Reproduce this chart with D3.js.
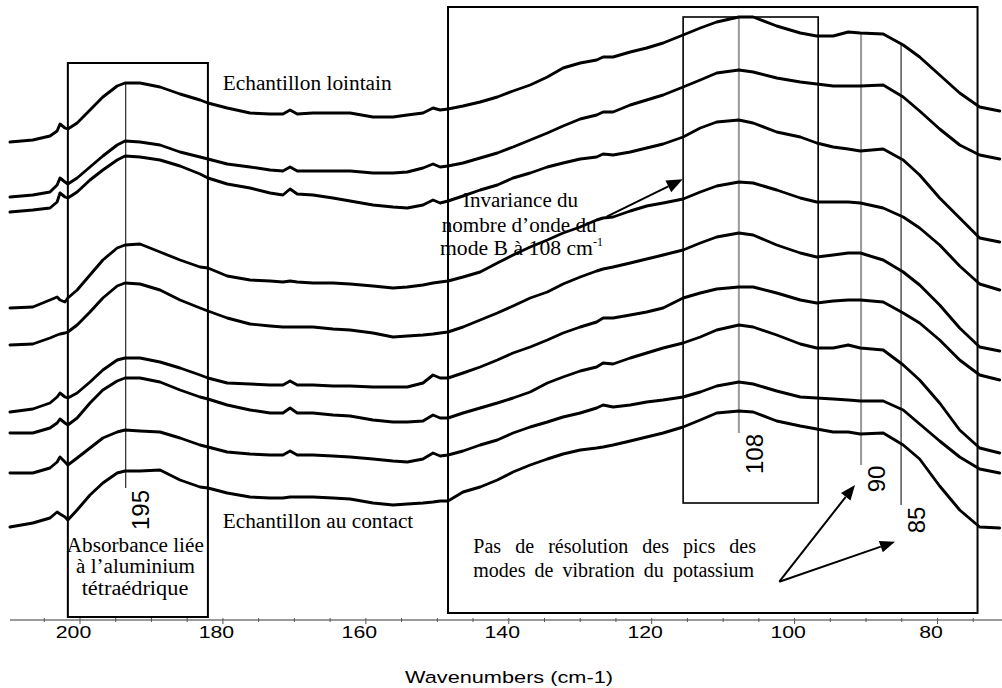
<!DOCTYPE html>
<html><head><meta charset="utf-8">
<script src="https://cdn.jsdelivr.net/npm/d3@7"></script>
<style>body{margin:0;background:#fff;} svg{display:block;}</style>
</head><body><svg id="c" width="1002" height="688"></svg>
<script>
// ---- data (wavenumber in cm-1, absorbance in arbitrary offset units) ----
const wavenumbers = [209.8,206.6,204.2,203.2,202.8,202.1,201.7,200.4,198.6,196.8,194.8,193.7,191.6,188.8,186.0,183.2,182.1,179.4,176.2,173.4,171.6,170.6,169.6,167.4,164.6,162.2,159.0,156.2,154.2,152.0,150.6,149.6,148.5,146.4,144.0,141.6,139.4,137.0,134.6,132.4,130.0,127.7,126.8,125.4,123.0,120.7,118.4,115.6,113.2,110.9,107.8,105.8,102.5,99.2,96.9,94.6,92.5,90.8,87.6,84.8,82.5,79.7,76.9,74.1,71.3];
const spectrum1 = [4.78,4.80,4.84,4.89,4.96,4.92,4.91,4.97,5.10,5.23,5.34,5.37,5.37,5.33,5.26,5.20,5.17,5.12,5.07,5.06,5.06,5.10,5.06,5.07,5.07,5.07,5.03,5.03,5.05,5.07,5.12,5.10,5.11,5.14,5.18,5.23,5.29,5.35,5.43,5.52,5.57,5.60,5.63,5.63,5.68,5.72,5.77,5.85,5.92,5.98,6.03,6.03,5.94,5.87,5.84,5.84,5.88,5.87,5.86,5.75,5.63,5.45,5.27,5.13,5.09];
const spectrum2 = [4.23,4.25,4.28,4.35,4.42,4.38,4.36,4.42,4.53,4.64,4.75,4.79,4.78,4.75,4.68,4.63,4.61,4.56,4.53,4.50,4.49,4.53,4.49,4.49,4.49,4.49,4.47,4.47,4.48,4.52,4.56,4.53,4.54,4.57,4.62,4.67,4.73,4.80,4.87,4.94,5.01,5.05,5.08,5.08,5.15,5.20,5.25,5.33,5.40,5.47,5.50,5.48,5.42,5.38,5.36,5.34,5.34,5.34,5.35,5.23,5.09,4.91,4.75,4.65,4.61];
const spectrum3 = [4.08,4.10,4.12,4.18,4.27,4.23,4.22,4.28,4.40,4.50,4.60,4.64,4.63,4.60,4.54,4.46,4.42,4.36,4.32,4.27,4.25,4.31,4.26,4.25,4.22,4.19,4.15,4.13,4.12,4.15,4.20,4.17,4.19,4.24,4.30,4.35,4.42,4.47,4.53,4.57,4.61,4.63,4.66,4.65,4.68,4.72,4.76,4.83,4.92,4.98,5.00,4.97,4.88,4.83,4.77,4.73,4.71,4.69,4.71,4.60,4.45,4.22,4.02,3.82,3.78];
const spectrum4 = [3.12,3.13,3.20,3.23,3.20,3.18,3.22,3.30,3.45,3.60,3.72,3.75,3.76,3.68,3.60,3.53,3.52,3.44,3.40,3.39,3.38,3.39,3.38,3.37,3.37,3.36,3.34,3.32,3.33,3.35,3.37,3.38,3.39,3.43,3.48,3.57,3.65,3.73,3.80,3.87,3.93,4.00,4.02,4.03,4.09,4.14,4.17,4.21,4.28,4.34,4.38,4.37,4.30,4.22,4.18,4.18,4.18,4.17,4.12,4.03,3.92,3.75,3.54,3.36,3.30];
const spectrum5 = [2.75,2.76,2.82,2.85,2.86,2.87,2.88,2.95,3.08,3.22,3.34,3.37,3.36,3.30,3.20,3.12,3.09,3.02,2.96,2.94,2.93,2.93,2.93,2.93,2.91,2.90,2.87,2.83,2.84,2.85,2.86,2.87,2.88,2.93,3.00,3.07,3.14,3.22,3.28,3.36,3.43,3.49,3.51,3.53,3.57,3.61,3.65,3.70,3.77,3.83,3.87,3.85,3.75,3.67,3.63,3.65,3.67,3.67,3.60,3.48,3.35,3.15,2.92,2.73,2.69];
const spectrum6 = [2.08,2.11,2.17,2.23,2.27,2.23,2.22,2.27,2.38,2.50,2.60,2.62,2.62,2.58,2.52,2.45,2.42,2.37,2.36,2.35,2.35,2.39,2.35,2.35,2.34,2.34,2.33,2.33,2.33,2.37,2.45,2.42,2.42,2.47,2.53,2.60,2.67,2.73,2.80,2.87,2.93,2.98,3.02,3.02,3.05,3.08,3.12,3.22,3.27,3.31,3.33,3.33,3.27,3.20,3.17,3.19,3.20,3.20,3.18,3.07,2.97,2.80,2.60,2.45,2.40];
const spectrum7 = [1.87,1.87,1.92,1.97,2.01,1.97,1.95,2.02,2.17,2.30,2.39,2.42,2.42,2.38,2.30,2.23,2.21,2.15,2.10,2.07,2.07,2.12,2.07,2.07,2.05,2.04,2.00,1.98,1.98,1.99,2.05,2.02,2.02,2.07,2.12,2.17,2.22,2.28,2.37,2.43,2.49,2.53,2.57,2.56,2.62,2.67,2.72,2.77,2.83,2.90,2.95,2.93,2.85,2.76,2.72,2.72,2.75,2.72,2.70,2.55,2.40,2.17,1.90,1.72,1.67];
const spectrum8 = [1.47,1.47,1.52,1.58,1.63,1.58,1.55,1.62,1.72,1.82,1.88,1.90,1.89,1.88,1.82,1.75,1.73,1.68,1.66,1.65,1.65,1.69,1.65,1.65,1.64,1.63,1.61,1.59,1.58,1.61,1.67,1.64,1.65,1.69,1.75,1.80,1.87,1.93,1.98,2.03,2.07,2.12,2.15,2.13,2.15,2.18,2.20,2.23,2.28,2.34,2.38,2.36,2.29,2.23,2.22,2.21,2.20,2.19,2.19,2.10,1.96,1.79,1.63,1.51,1.47];
const spectrum9 = [0.93,0.97,1.02,1.08,1.06,1.03,1.00,1.10,1.25,1.37,1.47,1.49,1.49,1.50,1.40,1.33,1.32,1.27,1.23,1.22,1.22,1.23,1.23,1.23,1.22,1.21,1.17,1.15,1.16,1.17,1.18,1.19,1.19,1.28,1.33,1.40,1.48,1.55,1.61,1.66,1.70,1.72,1.73,1.75,1.79,1.83,1.87,1.93,2.00,2.07,2.09,2.08,1.99,1.94,1.91,1.88,1.88,1.86,1.87,1.75,1.61,1.34,1.10,0.93,0.92];
const spectra = [spectrum1,spectrum2,spectrum3,spectrum4,spectrum5,spectrum6,spectrum7,spectrum8,spectrum9];
const majorTicks = [200,180,160,140,120,100,80];
const minorTicks = [205,195,190,185,175,170,165,155,150,145,135,130,125,115,110,105,95,90,85,75];
const axisTitle = "Wavenumbers (cm-1)";
const peakLabels = ["195","108","90","85"];
const peakWavenumbers = [193.6,107.8,90.7,85.1];

// ---- scales ----
const svg = d3.select("#c");
const x = d3.scaleLinear().domain([210,70]).range([8.54,1008.98]);
const y = d3.scaleLinear().domain([0,6.2]).range([620,0]);
const SERIF = "'Liberation Serif','Times New Roman',serif";
const SANS = "'Liberation Sans',Arial,sans-serif";

svg.append("rect").attr("width",1002).attr("height",688).attr("fill","#fff");
const g = svg.append("g");

// ---- boxes (in data coordinates) ----
function box(v0,v1,a0,a1,sw){
  g.append("rect").attr("x",x(v0)).attr("y",y(a0)).attr("width",x(v1)-x(v0)).attr("height",y(a1)-y(a0))
   .attr("fill","none").attr("stroke","#000").attr("stroke-width",sw);
}
box(201.7,182.1,5.57,0.03,2);
box(148.5,74.4,6.13,0.07,2);
box(115.6,96.7,6.03,1.17,1.6);

// ---- peak marker lines ----
const markTop = [5.37,6.02,5.87,5.77];
const markBot = [1.32,1.87,1.55,1.15];
const markCol = ["#000","#999","#999","#000"];
const markW = [1,2,2,1];
peakWavenumbers.forEach((v,i)=>{
  g.append("line").attr("x1",x(v)).attr("x2",x(v)).attr("y1",y(markTop[i])).attr("y2",y(markBot[i]))
   .attr("stroke",markCol[i]).attr("stroke-width",markW[i]);
});

// ---- spectra ----
const line = d3.line().x((d,i)=>x(wavenumbers[i])).y(d=>y(d));
g.selectAll("path.spec").data(spectra).enter().append("path").attr("class","spec")
  .attr("d",line).attr("fill","none").attr("stroke","#000").attr("stroke-width",2.9)
  .attr("stroke-linejoin","round").attr("stroke-linecap","round");

// ---- axis ----
const ax = g.append("g").attr("transform","translate(0,620)");
ax.append("line").attr("x1",10).attr("x2",1002).attr("y1",0).attr("y2",0).attr("stroke","#9a9a9a").attr("stroke-width",2);
ax.selectAll("line.mj").data(majorTicks).enter().append("line").attr("class","mj")
  .attr("x1",d=>x(d)).attr("x2",d=>x(d)).attr("y1",-2).attr("y2",4).attr("stroke","#555").attr("stroke-width",1);
ax.selectAll("line.mn").data(minorTicks).enter().append("line").attr("class","mn")
  .attr("x1",d=>x(d)).attr("x2",d=>x(d)).attr("y1",-2).attr("y2",2).attr("stroke","#555").attr("stroke-width",1);
ax.selectAll("text.tl").data(majorTicks).enter().append("text").attr("class","tl")
  .attr("transform",d=>`translate(${x(d)-6.5},17.9) scale(1.25,1)`)
  .attr("text-anchor","middle").attr("font-family",SANS).attr("font-size",17).attr("fill","#000")
  .text(d=>d);
g.append("text").attr("x",509).attr("y",683.3).attr("text-anchor","middle")
  .attr("font-family",SANS).attr("font-size",16.8).attr("textLength",208).attr("lengthAdjust","spacingAndGlyphs")
  .text(axisTitle);

// ---- rotated peak labels ----
const labPos = [[140,510],[754,454],[876.7,479],[916,520]];
peakLabels.forEach((t,i)=>{
  g.append("text").attr("transform",`translate(${labPos[i][0]},${labPos[i][1]}) rotate(-90)`)
   .attr("text-anchor","middle").attr("dy","0.36em").attr("font-family",SANS).attr("font-size",24).text(t);
});

// ---- serif annotations ----
function st(txt,xx,yy,len,anchor){
  return g.append("text").attr("x",xx).attr("y",yy).attr("text-anchor",anchor||"start")
   .attr("font-family",SERIF).attr("font-size",20).attr("textLength",len).attr("lengthAdjust","spacingAndGlyphs").text(txt);
}
st("Echantillon lointain",222.7,90,169);
st("Echantillon au contact",222.7,528.3,190.6);
st("Absorbance liée",135.3,551.7,137,"middle");
st("à l’aluminium",135.5,573.3,119,"middle");
st("tétraédrique",135,595,106.7,"middle");
st("Invariance du",520.5,206.7,115,"middle");
st("nombre d’onde du",519.2,231.7,155,"middle");
st("mode B à 108 cm",440,255,153);
g.append("text").attr("x",593).attr("y",246).attr("font-family",SERIF).attr("font-size",12).text("-1");

function justified(words,x0,x1,yb){
  const ns = words.map(w=>g.append("text").attr("y",yb).attr("font-family",SERIF).attr("font-size",20).text(w));
  const ws = ns.map(n=>n.node().getComputedTextLength());
  const gap = (x1-x0-d3.sum(ws))/(words.length-1);
  let cx=x0; ns.forEach((n,i)=>{n.attr("x",cx); cx+=ws[i]+gap;});
}
justified(["Pas","de","résolution","des","pics","des"],473.3,756,553.3);
justified(["modes","de","vibration","du","potassium"],473.3,754,576.7);

// ---- arrows ----
function arrow(x1,y1,x2,y2,len,w){
  const a=Math.atan2(y2-y1,x2-x1);
  const bx=x2-len*Math.cos(a), by=y2-len*Math.sin(a);
  g.append("line").attr("x1",x1).attr("y1",y1).attr("x2",bx).attr("y2",by).attr("stroke","#000").attr("stroke-width",2);
  const px=-Math.sin(a)*w, py=Math.cos(a)*w;
  g.append("path").attr("d",`M${x2},${y2}L${bx+px},${by+py}L${bx-px},${by-py}Z`).attr("fill","#000");
}
arrow(606.7,216.7,682.7,179.3,16,6.5);
arrow(779.3,581.7,855,485,15,6);
arrow(779.3,581.7,895,541.7,15,6);
</script></body></html>
